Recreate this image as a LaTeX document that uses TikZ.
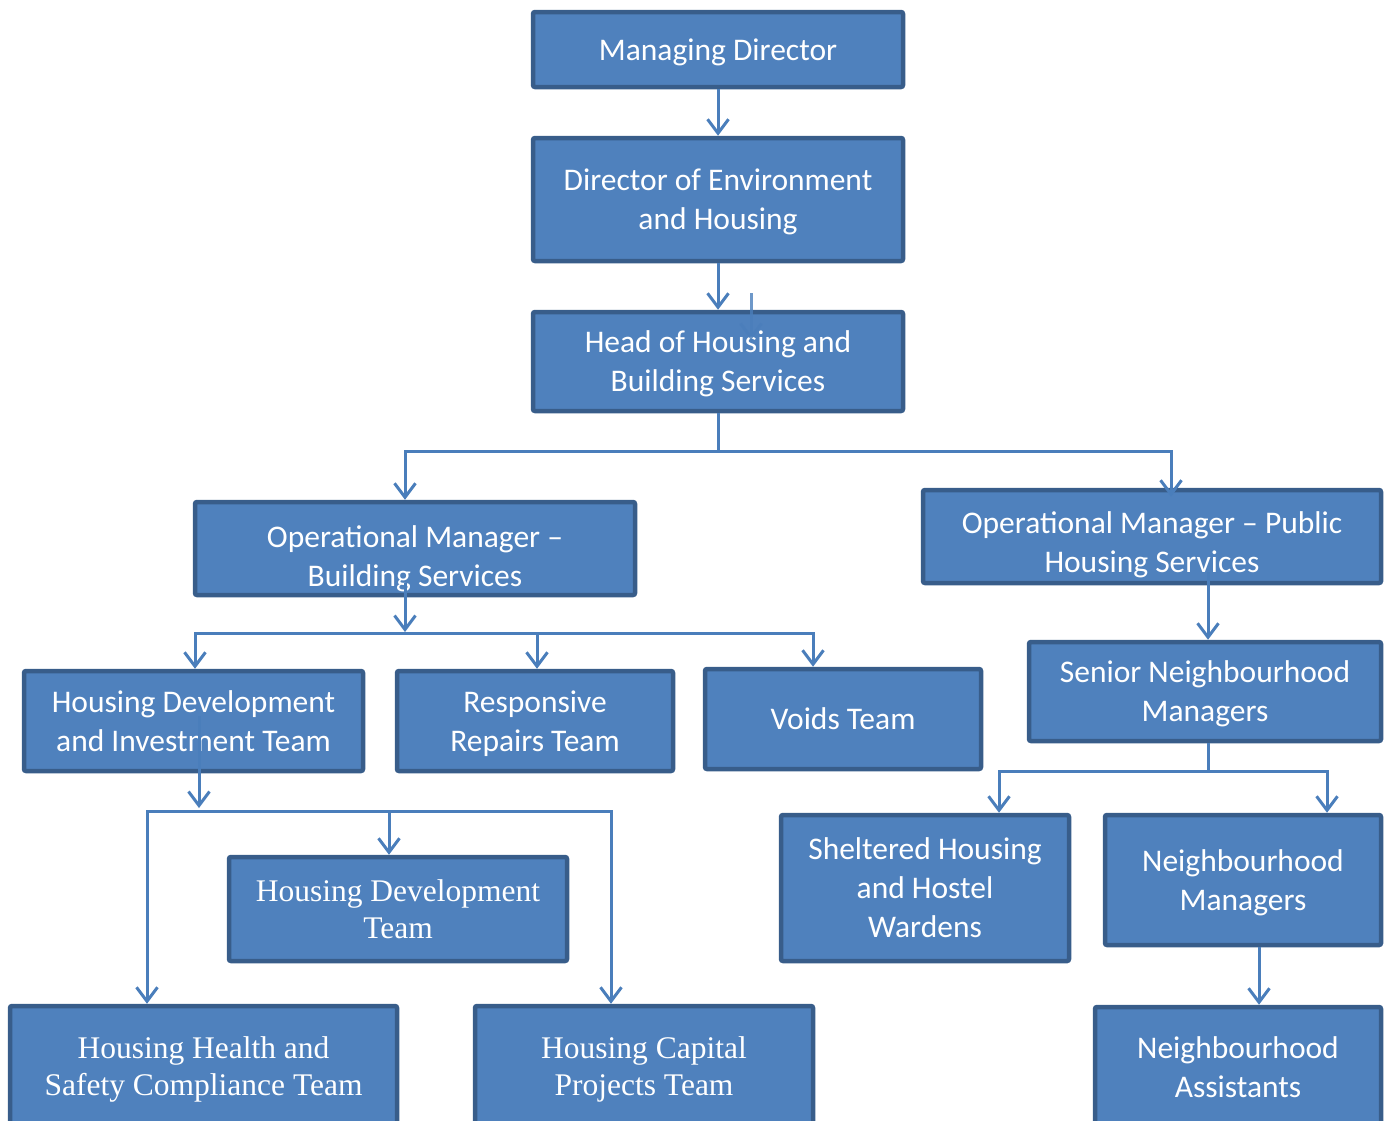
\documentclass[tikz,border=0pt]{standalone}
\usepackage{fontspec}
\setmainfont{Carlito}
\newfontfamily\tms{Liberation Serif}
\usetikzlibrary{arrows.meta}
\definecolor{boxfill}{HTML}{4F81BD}
\definecolor{boxedge}{HTML}{385D8A}
\definecolor{conncol}{HTML}{4A7EBB}
\tikzset{
  orgbox/.style={draw=boxedge, fill=boxfill, line width=4.5pt, rounded corners=2pt,
    inner sep=0pt, text=white, align=center, text depth=0pt,
    font=\fontsize{31.5}{39}\selectfont},
  serifbox/.style={orgbox, font=\tms\fontsize{31.5}{37}\selectfont},
  boxtext/.style={inner sep=0pt, text=white, align=center, text depth=0pt,
    font=\fontsize{31.5}{39}\selectfont},
  wire/.style={draw=conncol, line width=3pt},
  conn/.style={wire, -{Straight Barb[length=14pt,width=21pt]}}
}
\begin{document}
\begin{tikzpicture}[x=1pt,y=-1pt]
\useasboundingbox (0,0) rectangle (1389,1120);

\node[orgbox, minimum width=370pt, minimum height=75pt] (md) at (718,49.5) {Managing Director};
\node[orgbox, minimum width=370pt, minimum height=123pt] (deh) at (718,199.5) {Director of Environment\\and Housing};
\node[orgbox, minimum width=370pt, minimum height=99pt] (hhbs) at (718,361.5) {Head of Housing and\\Building Services};
\node[orgbox, minimum width=440pt, minimum height=93pt] (omb) at (415,548.5) {};
\node[boxtext] (omb-t) at ([yshift=-8pt]omb.center) {Operational Manager --\\Building Services};
\node[orgbox, minimum width=458pt, minimum height=93pt] (omp) at (1152,536.5) {};
\node[boxtext] (omp-t) at ([yshift=-6pt]omp.center) {Operational Manager -- Public\\Housing Services};
\node[orgbox, text depth=-3pt, minimum width=352pt, minimum height=99pt] (snm) at (1205,691.5) {Senior Neighbourhood\\Managers};
\node[orgbox, minimum width=339pt, minimum height=100pt] (hdi) at (193.5,721) {Housing Development\\and Investment Team};
\node[orgbox, text depth=-7pt, minimum width=276pt, minimum height=100pt] (rr) at (535,721) {Responsive\\Repairs Team};
\node[orgbox, minimum width=276pt, minimum height=100pt] (voids) at (843,719) {Voids Team};
\node[orgbox, minimum width=288pt, minimum height=146pt] (shhw) at (925,888) {Sheltered Housing\\and Hostel\\Wardens};
\node[orgbox, text depth=-4pt, minimum width=276pt, minimum height=130pt] (nm) at (1243,880) {Neighbourhood\\Managers};
\node[serifbox, minimum width=338pt, minimum height=104pt] (hdt) at (398,909) {Housing Development\\Team};
\node[serifbox, minimum width=387pt, minimum height=120pt] (hhs) at (203.5,1066) {Housing Health and\\Safety Compliance Team};
\node[serifbox, minimum width=338pt, minimum height=120pt] (hcp) at (644,1066) {Housing Capital\\Projects Team};
\node[orgbox, minimum width=286pt, minimum height=120pt] (na) at (1238,1067) {Neighbourhood\\Assistants};

% top chain
\draw[conn] (md.south) -- (deh.north);
\draw[conn] (deh.south) -- (hhbs.north);
\coordinate (stray) at (751,293);
\draw[conn, draw opacity=0.8] (stray) -- ++(0,47);

% head -> operational managers
\coordinate (j1) at (718,451);
\draw[wire] (hhbs.south) -- (j1);
\draw[conn] (j1) -| ([xshift=-10pt]omb.north);
\draw[conn] (j1) -| ([xshift=19pt,yshift=-9pt]omp.north);

% building services branch
\coordinate (b1) at (405,633);
\draw[conn] ([xshift=-10pt,yshift=14pt]omb.south) -- ([yshift=1pt]b1);
\draw[conn] (b1) -| ([xshift=1.5pt]hdi.north);
\draw[conn] (b1) -| ([xshift=2pt]rr.north);
\draw[conn] (b1) -| ([xshift=-30pt]voids.north);

% housing development & investment branch
\coordinate (h1) at (199,811);
\draw[conn] ([xshift=5.5pt,yshift=5pt]hdi.center) -- ([yshift=3pt]h1);
\draw[conn] (h1) -| ([xshift=-56.5pt]hhs.north);
\draw[conn] (h1) -| ([xshift=-9pt]hdt.north);
\draw[conn] (h1) -| ([xshift=-33pt]hcp.north);

% public housing branch
\draw[conn] ([xshift=56pt,yshift=13pt]omp.south) -- ([xshift=3pt]snm.north);
\coordinate (s1) at (1208,771);
\draw[wire] ([xshift=3pt]snm.south) -- (s1);
\draw[conn] (s1) -| ([xshift=74pt]shhw.north);
\draw[conn] (s1) -| ([xshift=84pt]nm.north);
\draw[conn] ([xshift=16pt]nm.south) -- ([xshift=21pt]na.north);
\end{tikzpicture}
\end{document}
